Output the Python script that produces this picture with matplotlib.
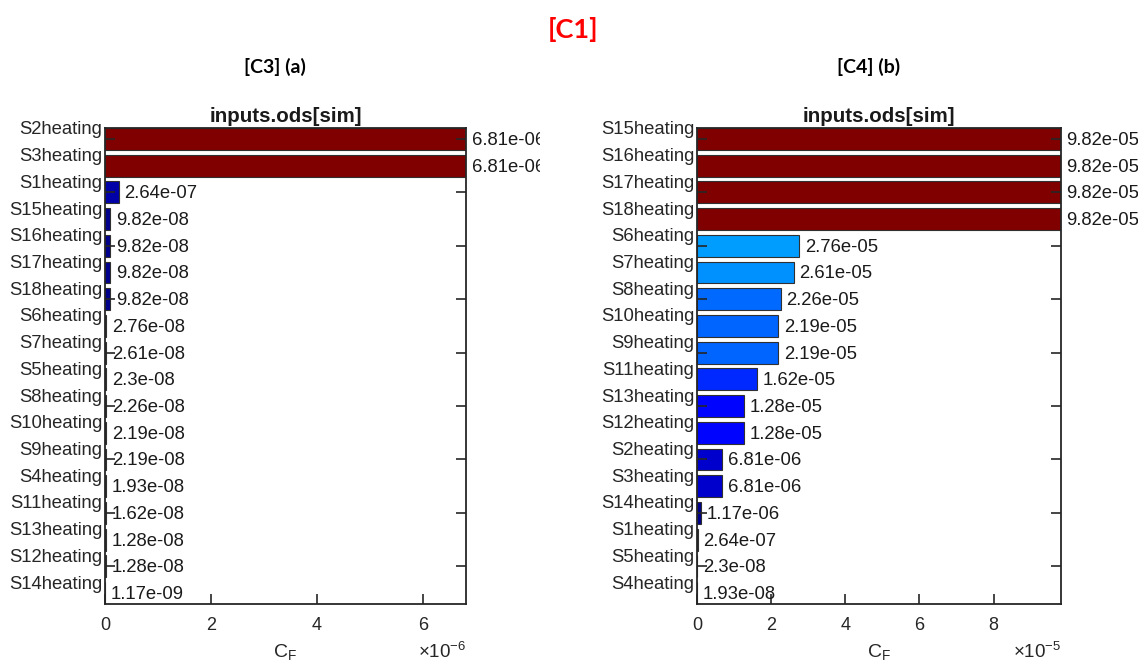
import numpy as np
import matplotlib
matplotlib.use("Agg")
import matplotlib.pyplot as plt
from matplotlib.transforms import Bbox, TransformedBbox

plt.rcParams['font.family'] = ['Liberation Sans', 'DejaVu Sans']
plt.rcParams['mathtext.default'] = 'regular'

# panel (a): values of C_F, top to bottom
labels_a = ['S2heating', 'S3heating', 'S1heating', 'S15heating', 'S16heating', 'S17heating',
            'S18heating', 'S6heating', 'S7heating', 'S5heating', 'S8heating', 'S10heating',
            'S9heating', 'S4heating', 'S11heating', 'S13heating', 'S12heating', 'S14heating']
values_a = [6.81e-06, 6.81e-06, 2.64e-07, 9.82e-08, 9.82e-08, 9.82e-08,
            9.82e-08, 2.76e-08, 2.61e-08, 2.3e-08, 2.26e-08, 2.19e-08,
            2.19e-08, 1.93e-08, 1.62e-08, 1.28e-08, 1.28e-08, 1.17e-09]

# panel (b)
labels_b = ['S15heating', 'S16heating', 'S17heating', 'S18heating', 'S6heating', 'S7heating',
            'S8heating', 'S10heating', 'S9heating', 'S11heating', 'S13heating', 'S12heating',
            'S2heating', 'S3heating', 'S14heating', 'S1heating', 'S5heating', 'S4heating']
values_b = [9.82e-05, 9.82e-05, 9.82e-05, 9.82e-05, 2.76e-05, 2.61e-05,
            2.26e-05, 2.19e-05, 2.19e-05, 1.62e-05, 1.28e-05, 1.28e-05,
            6.81e-06, 6.81e-06, 1.17e-06, 2.64e-07, 2.3e-08, 1.93e-08]

W, H = 1138, 664
fig = plt.figure(figsize=(W / 100, H / 100), dpi=100)

axc = '#262626'


def panel(rect, labels, values, scale, xticks, exp_txt, clip_x=None):
    ax = fig.add_axes(rect)
    vals = np.array(values)
    pos = np.arange(1, len(vals) + 1)
    colors = plt.cm.jet(vals / vals.max())
    ax.barh(pos, vals / scale, height=0.82, color=colors, edgecolor='#303030', linewidth=0.8)
    ax.set_xlim(0, vals.max() / scale)
    ax.set_ylim(len(vals) + 0.41, 0.59)

    # tick marks at odd bars, labels at the top edge of each bar
    ax.set_yticks(pos[::2])
    ax.set_yticklabels([])
    ax.set_yticks(pos - 0.41, minor=True)
    ax.set_yticklabels(labels, minor=True, fontsize=13.3)
    ax.tick_params(axis='y', which='minor', length=0, pad=2, colors='#262626')
    ax.tick_params(axis='y', which='major', direction='in', length=7, width=1.2,
                   left=True, right=True, color=axc)
    ax.set_xticks(xticks)
    ax.set_xticklabels([str(t) for t in xticks])
    ax.tick_params(axis='x', direction='in', length=7, width=1.2, top=False,
                   labelsize=13, pad=9, color=axc, labelcolor='#262626')
    for s in ax.spines.values():
        s.set_color(axc)
        s.set_linewidth(1.3)

    for p, v in zip(pos, vals):
        t = ax.annotate('%.3g' % v, (v / scale, p), xytext=(4, -1), textcoords='offset points',
                        ha='left', va='center', fontsize=13.3, color='#1a1a1a',
                        annotation_clip=False)
        if clip_x is not None:
            t.set_clip_on(True)
            t.set_clip_box(TransformedBbox(Bbox([[0, 0], [clip_x, 1]]), fig.transFigure))

    ax.set_title('inputs.ods[sim]', fontsize=14.8, fontweight='bold', pad=4, color='#1a1a1a')
    ax.set_xlabel('C$_F$', fontsize=14, labelpad=6, color='#262626')
    x1 = rect[0] + rect[2]
    fig.text(x1, 1 - 652 / H, exp_txt, ha='right', va='center', fontsize=13.5, color='#262626')
    return ax


panel([105 / W, 60 / H, 361 / W, 476 / H], labels_a, values_a, 1e-6, [0, 2, 4, 6],
      r'$\times$10$^{-6}$', clip_x=540 / W)
panel([697 / W, 60 / H, 364 / W, 476 / H], labels_b, values_b, 1e-5, [0, 2, 4, 6, 8],
      r'$\times$10$^{-5}$')

fig.text(573 / W, 1 - 30 / H, '[C1]', ha='center', va='center', fontsize=19.5,
         fontweight='bold', color='red', family=['Lato', 'DejaVu Sans'])
fig.text(275 / W, 1 - 67 / H, '[C3] (a)', ha='center', va='center', fontsize=14,
         fontweight='bold', color='black', family=['Lato', 'DejaVu Sans'])
fig.text(869 / W, 1 - 67 / H, '[C4] (b)', ha='center', va='center', fontsize=14,
         fontweight='bold', color='black', family=['Lato', 'DejaVu Sans'])

fig.savefig('out.png', dpi=100)
